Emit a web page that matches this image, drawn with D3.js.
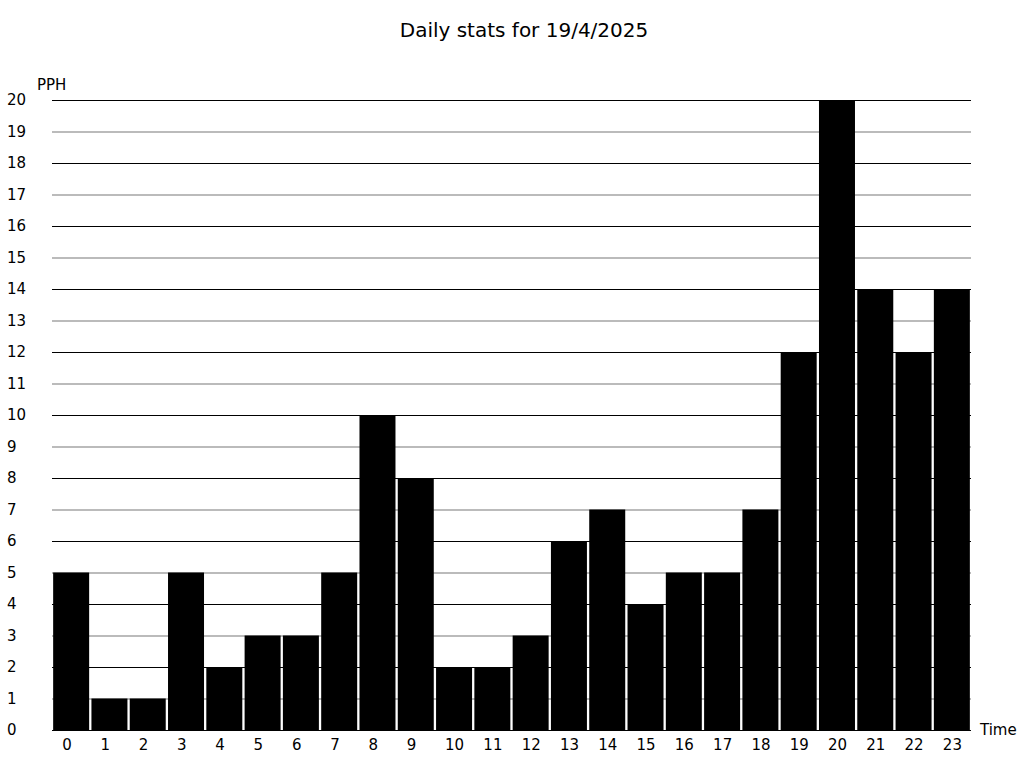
<!DOCTYPE html>
<html><head><meta charset="utf-8">
<script src="https://cdn.jsdelivr.net/npm/d3@7"></script>
<style>body{margin:0;background:#fff}text{font-family:"DejaVu Sans",sans-serif}</style>
</head><body><svg id="c" width="1024" height="768"></svg>
<script>
const hours = d3.range(0,24).map(String);
const values = [5,1,1,5,2,3,3,5,10,8,2,2,3,6,7,4,5,5,7,12,20,14,12,14];
const yTicks = d3.range(0,21);
const svg = d3.select("#c");
const x = d3.scaleBand().domain(hours).range([52,971]).paddingInner(0.06).paddingOuter(0.03);
const y = d3.scaleLinear().domain([0,20]).range([730,100]);
// grid
svg.append("g").selectAll("line").data(yTicks.filter(d=>d>0)).join("line")
  .attr("x1",52).attr("x2",971).attr("y1",d=>y(d)+0.5).attr("y2",d=>y(d)+0.5)
  .attr("stroke",d=>d%2===0?"#000":"#bbb").attr("stroke-width",d=>d%2===0?1:2);
// bars
svg.append("g").selectAll("rect").data(values).join("rect")
  .attr("x",(d,i)=>x(hours[i])).attr("width",x.bandwidth())
  .attr("y",d=>y(d)).attr("height",d=>y(0)-y(d)).attr("fill","#000");
// baseline
svg.append("line").attr("x1",52).attr("x2",971).attr("y1",730.5).attr("y2",730.5).attr("stroke","#000");
// y labels
svg.append("g").selectAll("text").data(yTicks).join("text")
  .attr("x",7).attr("y",d=>y(d)+5).attr("text-anchor","start").attr("font-size",15).text(d=>d);
// x labels
svg.append("g").selectAll("text").data(hours).join("text")
  .attr("x",d=>x(d)+9).attr("y",750).attr("text-anchor","start").attr("font-size",15).text(d=>d);
svg.append("text").attr("x",524).attr("y",37).attr("text-anchor","middle").attr("font-size",20).text("Daily stats for 19/4/2025");
svg.append("text").attr("x",37).attr("y",90).attr("font-size",15).text("PPH");
svg.append("text").attr("x",980).attr("y",735).attr("font-size",15).text("Time");
</script></body></html>
